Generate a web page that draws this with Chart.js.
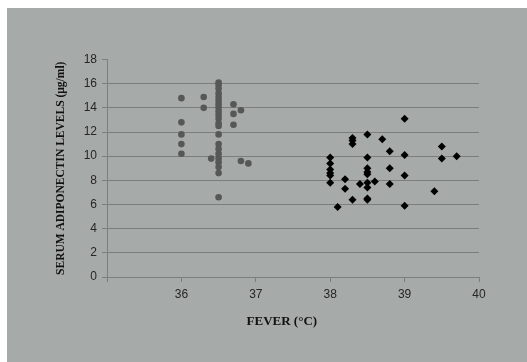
<!DOCTYPE html>
<html>
<head>
<meta charset="utf-8">
<script src="https://cdn.jsdelivr.net/npm/chart.js@4/dist/chart.umd.min.js"></script>
<style>
  html, body { margin: 0; padding: 0; background: #ffffff; }
  #wrap { width: 527px; height: 362px; position: relative; }
</style>
</head>
<body>
<div id="wrap"><canvas id="c" width="527" height="362"></canvas></div>
<script>
// Group A (grey circles): fever (°C) and serum adiponectin (µg/ml)
const feverA = [
  36.0, 36.0, 36.0, 36.0, 36.0,
  36.3, 36.3,
  36.4,
  36.5, 36.5, 36.5, 36.5, 36.5, 36.5, 36.5, 36.5, 36.5, 36.5, 36.5,
  36.5, 36.5, 36.5, 36.5, 36.5, 36.5, 36.5, 36.5, 36.5, 36.5, 36.5,
  36.7, 36.7, 36.7,
  36.8, 36.8,
  36.9
];
const adiponectinA = [
  14.8, 12.8, 11.8, 11.0, 10.2,
  14.9, 14.0,
  9.8,
  16.1, 15.9, 15.6, 15.2, 14.9, 14.6, 14.3, 14.0, 13.7, 13.4, 13.1,
  12.7, 12.5, 11.8, 11.0, 10.6, 10.2, 9.8, 9.5, 9.1, 8.6, 6.6,
  14.3, 13.5, 12.6,
  13.8, 9.6,
  9.4
];
// Group B (black diamonds)
const feverB = [
  38.0, 38.0, 38.0, 38.0, 38.0, 38.0,
  38.1,
  38.2, 38.2,
  38.3, 38.3, 38.3, 38.3,
  38.4,
  38.5, 38.5, 38.5, 38.5, 38.5, 38.5, 38.5, 38.5, 38.5,
  38.6,
  38.7,
  38.8, 38.8, 38.8,
  39.0, 39.0, 39.0, 39.0,
  39.4,
  39.5, 39.5,
  39.7
];
const adiponectinB = [
  9.9, 9.4, 8.9, 8.6, 8.4, 7.8,
  5.8,
  8.1, 7.3,
  11.5, 11.3, 11.0, 6.4,
  7.7,
  11.8, 9.9, 9.0, 8.7, 8.5, 7.8, 7.4, 6.5, 6.4,
  7.9,
  11.4,
  10.4, 9.0, 7.7,
  13.1, 10.1, 8.4, 5.9,
  7.1,
  10.8, 9.8,
  10.0
];
const xTickLabels = ['', '36', '37', '38', '39', '40'];
const yTicks = [0, 2, 4, 6, 8, 10, 12, 14, 16, 18];
const xTitle = 'FEVER (°C)';
const yTitle = 'SERUM ADIPONECTIN LEVELS (µg/ml)';

const toPoints = (xs, ys) => xs.map((x, i) => ({ x: x, y: ys[i] }));

const bgPlugin = {
  id: 'bg',
  beforeDraw(chart) {
    const ctx = chart.ctx;
    ctx.save();
    ctx.fillStyle = '#ffffff';
    ctx.fillRect(0, 0, chart.width, chart.height);
    ctx.fillStyle = '#a6aaa9';
    ctx.fillRect(7, 8, chart.width - 7, chart.height - 8);
    ctx.restore();
  }
};

// x-axis title, placed slightly left of the axis centre as in the reference
const xTitlePlugin = {
  id: 'xTitle',
  afterDraw(chart) {
    const ctx = chart.ctx;
    const xs = chart.scales.x;
    ctx.save();
    ctx.fillStyle = '#111111';
    ctx.font = 'bold 13px "Liberation Serif"';
    ctx.textAlign = 'center';
    ctx.textBaseline = 'middle';
    ctx.fillText(xTitle, xs.getPixelForValue(37.35), 322);
    ctx.restore();
  }
};

new Chart(document.getElementById('c'), {
  type: 'scatter',
  data: {
    datasets: [
      {
        label: 'A',
        data: toPoints(feverA, adiponectinA),
        pointStyle: 'circle',
        pointRadius: 3.3,
        pointHoverRadius: 3.3,
        backgroundColor: '#555857',
        borderColor: '#555857',
        borderWidth: 0
      },
      {
        label: 'B',
        data: toPoints(feverB, adiponectinB),
        pointStyle: 'rectRot',
        pointRadius: 4,
        pointHoverRadius: 4,
        backgroundColor: '#000000',
        borderColor: '#000000',
        borderWidth: 0
      }
    ]
  },
  options: {
    responsive: false,
    animation: false,
    devicePixelRatio: 1,
    layout: { padding: { left: 7, top: 59.5, right: 48, bottom: 0 } },
    plugins: {
      legend: { display: false },
      tooltip: { enabled: false }
    },
    scales: {
      x: {
        type: 'linear',
        min: 35,
        max: 40,
        afterFit(scale) { scale.height = 85; },
        afterBuildTicks(scale) {
          scale.ticks = xTickLabels.map((t, i) => ({ value: 35 + i }));
        },
        ticks: {
          stepSize: 1,
          padding: 5,
          color: '#262626',
          font: { family: 'Liberation Sans', size: 12 },
          maxRotation: 0,
          callback: (v, i) => xTickLabels[i]
        },
        grid: {
          drawOnChartArea: false,
          drawTicks: true,
          tickLength: 5,
          color: '#7b7f7e'
        },
        border: { display: true, color: '#7b7f7e', width: 1 },
        title: { display: false }
      },
      y: {
        type: 'linear',
        min: 0,
        max: 18,
        afterFit(scale) { scale.width = 100; },
        afterBuildTicks(scale) {
          scale.ticks = yTicks.map(v => ({ value: v }));
        },
        ticks: {
          stepSize: 2,
          padding: 5,
          color: '#262626',
          font: { family: 'Liberation Sans', size: 12 }
        },
        grid: {
          drawTicks: true,
          tickLength: 5,
          color: (c) => (c.tick && c.tick.value === 18) ? 'rgba(0,0,0,0)' : '#7a7e7d',
          tickColor: '#7b7f7e'
        },
        border: { display: true, color: '#7b7f7e', width: 1 },
        title: {
          display: true,
          text: yTitle,
          color: '#111111',
          font: { family: 'Liberation Serif', size: 11.5, weight: 'bold' },
          padding: { top: 47, bottom: 0 }
        }
      }
    }
  },
  plugins: [bgPlugin, xTitlePlugin]
});
</script>
</body>
</html>
